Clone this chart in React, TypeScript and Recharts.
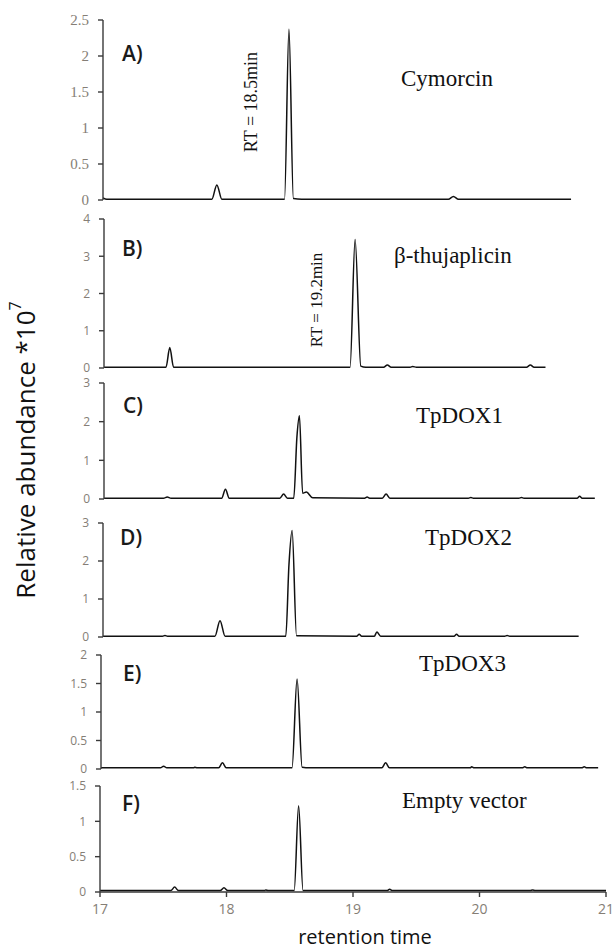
import React from 'react';
import { LineChart, Line, XAxis, YAxis } from 'recharts';

// GC-MS traces: [retention time (min), relative abundance (*10^7)]
const cymorcin: [number, number][] = [
  [17.0, 0.03], [17.03, 0.01], [17.86, 0.01], [17.9, 0.21], [17.94, 0.01],
  [18.435, 0.01], [18.47, 2.37], [18.505, 0.02], [18.57, 0.01],
  [19.73, 0.01], [19.77, 0.05], [19.81, 0.01], [20.7, 0.01],
];

const thujaplicin: [number, number][] = [
  [17.0, 0.02], [17.49, 0.02], [17.52, 0.55], [17.55, 0.02],
  [18.945, 0.02], [18.985, 3.45], [19.03, 0.05], [19.07, 0.02],
  [19.21, 0.02], [19.24, 0.08], [19.27, 0.02], [19.42, 0.02], [19.44, 0.04], [19.47, 0.02],
  [20.34, 0.02], [20.37, 0.08], [20.4, 0.02], [20.49, 0.02],
];

const tpdox1: [number, number][] = [
  [17.0, 0.02], [17.47, 0.02], [17.5, 0.05], [17.53, 0.02],
  [17.93, 0.02], [17.96, 0.25], [17.99, 0.02],
  [18.39, 0.02], [18.42, 0.13], [18.45, 0.02],
  [18.5, 0.02], [18.525, 1.6], [18.545, 2.15], [18.57, 0.15], [18.6, 0.18], [18.65, 0.03],
  [19.06, 0.02], [19.08, 0.05], [19.1, 0.02],
  [19.2, 0.02], [19.23, 0.13], [19.26, 0.02],
  [19.88, 0.02], [19.9, 0.04], [19.92, 0.02],
  [20.28, 0.02], [20.3, 0.04], [20.32, 0.02],
  [20.74, 0.02], [20.76, 0.07], [20.78, 0.02], [20.88, 0.02],
];

const tpdox2: [number, number][] = [
  [17.0, 0.02], [17.47, 0.02], [17.49, 0.04], [17.51, 0.02],
  [17.885, 0.02], [17.925, 0.43], [17.965, 0.02],
  [18.445, 0.02], [18.47, 1.9], [18.495, 2.8], [18.53, 0.03],
  [19.005, 0.02], [19.025, 0.07], [19.045, 0.02],
  [19.145, 0.02], [19.165, 0.13], [19.195, 0.02],
  [19.775, 0.02], [19.795, 0.07], [19.815, 0.02],
  [20.175, 0.02], [20.195, 0.04], [20.215, 0.02], [20.76, 0.02],
];

const tpdox3: [number, number][] = [
  [17.0, 0.02], [17.47, 0.02], [17.495, 0.05], [17.52, 0.02],
  [17.73, 0.02], [17.74, 0.03], [17.76, 0.02],
  [17.93, 0.02], [17.96, 0.11], [17.99, 0.02],
  [18.51, 0.02], [18.55, 1.58], [18.59, 0.03], [18.65, 0.02],
  [19.22, 0.02], [19.25, 0.11], [19.28, 0.02],
  [19.92, 0.02], [19.93, 0.04], [19.95, 0.02],
  [20.33, 0.02], [20.35, 0.04], [20.37, 0.02],
  [20.8, 0.02], [20.82, 0.04], [20.84, 0.02], [20.93, 0.02],
];

const emptyVector: [number, number][] = [
  [17.0, 0.02], [17.56, 0.02], [17.59, 0.07], [17.62, 0.02],
  [17.95, 0.02], [17.98, 0.06], [18.01, 0.02],
  [18.3, 0.02], [18.31, 0.03], [18.33, 0.02],
  [18.535, 0.02], [18.57, 1.22], [18.605, 0.02],
  [19.27, 0.02], [19.29, 0.04], [19.31, 0.02],
  [20.4, 0.02], [20.42, 0.03], [20.44, 0.02], [21.0, 0.02],
];

const xTicks = [17, 18, 19, 20, 21];

const panels = [
  { letter: 'A)', name: 'Cymorcin', data: cymorcin, ticks: [0, 0.5, 1, 1.5, 2, 2.5], serif: true },
  { letter: 'B)', name: 'β-thujaplicin', data: thujaplicin, ticks: [0, 1, 2, 3, 4] },
  { letter: 'C)', name: 'TpDOX1', data: tpdox1, ticks: [0, 1, 2, 3] },
  { letter: 'D)', name: 'TpDOX2', data: tpdox2, ticks: [0, 1, 2, 3] },
  { letter: 'E)', name: 'TpDOX3', data: tpdox3, ticks: [0, 0.5, 1, 1.5, 2] },
  { letter: 'F)', name: 'Empty vector', data: emptyVector, ticks: [0, 0.5, 1, 1.5] },
];

// pixel layout of each stacked panel (axis x, top tick y, zero y) and its captions
const layout = [
  { axisX: 103, top: 20, zero: 200, lx: 122, ly: 53, nx: 401, ny: 78 },
  { axisX: 104, top: 219, zero: 368, lx: 122, ly: 248, nx: 394, ny: 255 },
  { axisX: 104, top: 383, zero: 499, lx: 123, ly: 405, nx: 416, ny: 415 },
  { axisX: 103, top: 523, zero: 637, lx: 120, ly: 537, nx: 425, ny: 537 },
  { axisX: 101, top: 655, zero: 769, lx: 123, ly: 673, nx: 419, ny: 663 },
  { axisX: 100, top: 786, zero: 892, lx: 122, ly: 803, nx: 402, ny: 800 },
];

const PLOT_W = 506;
const Y_W = 60;
const AXIS = '#3a3a3a';
const TICK = '#857e76';
const SANS = '"Open Sans", sans-serif';
const SERIF = '"Liberation Serif", "Times New Roman", serif';

function Trace({ idx }: { idx: number }) {
  const p = panels[idx];
  const l = layout[idx];
  const last = idx === panels.length - 1;
  const mt = 10;
  const mb = last ? 0 : 10;
  const xh = last ? 32 : 0;
  const right = 12;
  const rows = p.data.map(([t, v]) => ({ t, v }));
  const tickStyle = p.serif
    ? { fill: TICK, fontSize: 15, fontFamily: SERIF }
    : { fill: TICK, fontSize: 12, fontFamily: SANS };
  return (
    <div style={{ position: 'absolute', left: 0, top: l.top - mt }}>
      <LineChart
        width={l.axisX + PLOT_W + right}
        height={l.zero - l.top + mt + mb + xh}
        data={rows}
        margin={{ top: mt, right, bottom: mb, left: l.axisX - Y_W }}
      >
        <XAxis
          dataKey="t"
          type="number"
          domain={[17, 21]}
          ticks={xTicks}
          hide={!last}
          height={xh}
          tickSize={5}
          tickMargin={7}
          axisLine={{ stroke: AXIS, strokeWidth: 1.4 }}
          tickLine={{ stroke: AXIS, strokeWidth: 1.4 }}
          tick={{ fill: TICK, fontSize: 14, fontFamily: SANS }}
        />
        <YAxis
          width={Y_W}
          domain={[0, p.ticks[p.ticks.length - 1]]}
          ticks={p.ticks}
          interval={0}
          tickSize={5}
          tickMargin={9}
          axisLine={{ stroke: AXIS, strokeWidth: 1.4 }}
          tickLine={{ stroke: AXIS, strokeWidth: 1.4 }}
          tick={tickStyle}
        />
        <Line
          dataKey="v"
          type="monotone"
          stroke="#111"
          strokeWidth={1.5}
          dot={false}
          isAnimationActive={false}
        />
      </LineChart>
    </div>
  );
}

export default function App() {
  return (
    <div style={{ position: 'absolute', left: 0, top: 0, width: 615, height: 949, background: '#fff' }}>
      {panels.map((_, i) => (
        <Trace key={i} idx={i} />
      ))}
      <svg
        width={615}
        height={949}
        style={{ position: 'absolute', left: 0, top: 0, pointerEvents: 'none' }}
      >
        {panels.map((p, i) => (
          <g key={p.letter}>
            <text x={layout[i].lx} y={layout[i].ly} dominantBaseline="central"
              fontFamily={SANS} fontSize={21} fontWeight={600} fill="#1a1a1a">{p.letter}</text>
            <text x={layout[i].nx} y={layout[i].ny} dominantBaseline="central"
              fontFamily={SERIF} fontSize={23} fill="#111">{p.name}</text>
          </g>
        ))}
        <text x={251} y={102} transform="rotate(-90 251 102)" textAnchor="middle"
          dominantBaseline="central" fontFamily={SERIF} fontSize={18} fill="#111">RT = 18.5min</text>
        <text x={316} y={300} transform="rotate(-90 316 300)" textAnchor="middle"
          dominantBaseline="central" fontFamily={SERIF} fontSize={17} fill="#111">RT = 19.2min</text>
        <text x={25} y={450} transform="rotate(-90 25 450)" textAnchor="middle"
          dominantBaseline="central" fontFamily={SANS} fontSize={26} fill="#111">
          Relative abundance *10<tspan fontSize={16} dy={-10}>7</tspan>
        </text>
        <text x={365} y={944} textAnchor="middle"
          fontFamily={SANS} fontSize={20} fill="#111">retention time</text>
      </svg>
    </div>
  );
}
